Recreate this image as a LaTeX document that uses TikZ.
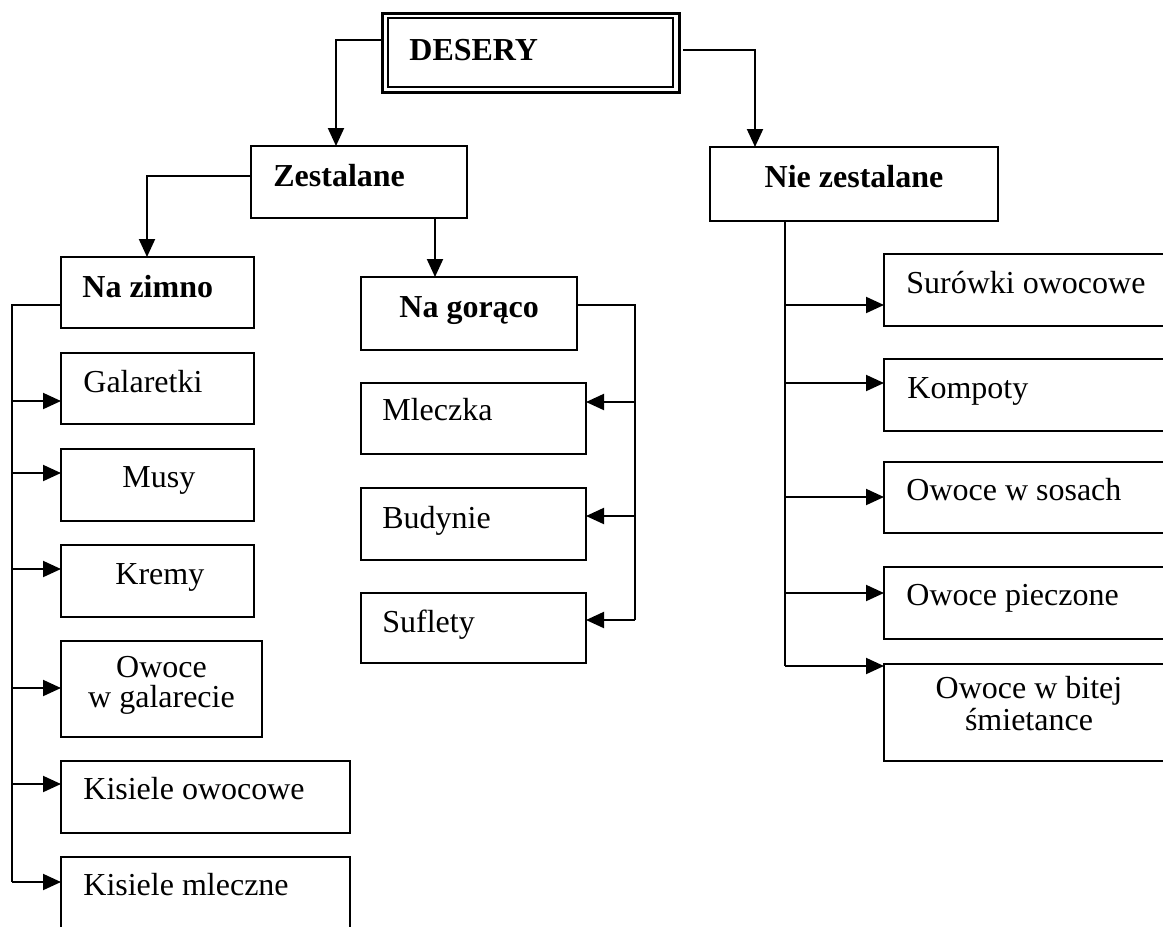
\documentclass[tikz,border=0pt]{standalone}
\usepackage{fontspec}
\setmainfont{Liberation Serif}
\usetikzlibrary{arrows.meta}
\newcommand{\bxnode}[5]{\node[bx, minimum width={(#4-#2)*0.5pt}, minimum height={(#5-#3)*0.5pt}, anchor=north west] (#1) at (#2,#3) {};}
\begin{document}
\begin{tikzpicture}[x=0.5pt,y=-0.5pt,
  bx/.style={draw=black, line width=1pt, inner sep=0pt, outer sep=0pt, fill=none},
  arr/.style={-{Triangle[length=9pt,width=8pt]}, line width=1pt},
  ln/.style={line width=1pt},
  txt/.style={inner sep=0pt, anchor=base west, font=\fontsize{16}{15}\selectfont},
  txtc/.style={inner sep=0pt, anchor=base, font=\fontsize{16}{15}\selectfont},
  btxt/.style={inner sep=0pt, anchor=base west, font=\fontsize{16}{15}\selectfont\bfseries},
  btxtc/.style={inner sep=0pt, anchor=base, font=\fontsize{16}{15}\selectfont\bfseries}]
\useasboundingbox (0,0) rectangle (1163,927);
% main box (double frame)
\node[draw=black, line width=1.5pt, inner sep=0pt, outer sep=0pt, minimum width={(679-382)*0.5pt}, minimum height={(92-13)*0.5pt}, anchor=north west] (des) at (382,13) {};
\draw[line width=1pt] ([shift={(3pt,-2.6pt)}]des.north west) rectangle ([shift={(-3pt,2.6pt)}]des.south east);
\node[btxt] (tdes) at (409,60) {DESERY};
% level 1
\bxnode{zest}{251}{146}{467}{218}
\node[btxt] (tzest) at (273,186) {Zestalane};
\bxnode{niez}{710}{147}{998}{221}
\node[btxtc] (tniez) at (854,187) {Nie zestalane};
% level 2
\bxnode{zim}{61}{257}{254}{328}
\node[btxt] (tzim) at (82,297) {Na zimno};
\bxnode{gor}{361}{277}{577}{350}
\node[btxt] (tgor) at (399,317) {Na gorąco};
% left column
\bxnode{gal}{61}{353}{254}{424}
\node[txt] (tgal) at (83,392) {Galaretki};
\bxnode{mus}{61}{449}{254}{521}
\node[txt] (tmus) at (122,487) {Musy};
\bxnode{kre}{61}{545}{254}{617}
\node[txt] (tkre) at (115,584) {Kremy};
\bxnode{owg}{61}{641}{262}{737}
\node[txtc] (towg1) at (161.5,677) {Owoce};
\node[txtc] (towg2) at (161.5,707) {w galarecie};
\bxnode{kio}{61}{761}{350}{833}
\node[txt] (tkio) at (83,799) {Kisiele owocowe};
\bxnode{kim}{61}{857}{350}{945}
\node[txt] (tkim) at (83,895) {Kisiele mleczne};
% middle column
\bxnode{mle}{361}{383}{586}{454}
\node[txt] (tmle) at (382,420) {Mleczka};
\bxnode{bud}{361}{488}{586}{560}
\node[txt] (tbud) at (382,528) {Budynie};
\bxnode{suf}{361}{593}{586}{663}
\node[txt] (tsuf) at (382,632) {Suflety};
% right column
\bxnode{sur}{884}{254}{1180}{326}
\node[txt] (tsur) at (906,293) {Surówki owocowe};
\bxnode{kom}{884}{359}{1180}{431}
\node[txt] (tkom) at (907,398) {Kompoty};
\bxnode{sos}{884}{462}{1180}{533}
\node[txt] (tsos) at (906,500) {Owoce w sosach};
\bxnode{pie}{884}{567}{1180}{639}
\node[txt] (tpie) at (906,605) {Owoce pieczone};
\bxnode{bit}{884}{664}{1180}{761}
\node[txtc] (tbit1) at (1029,698) {Owoce w bitej};
\node[txtc] (tbit2) at (1029,730) {śmietance};
% connectors from top
\draw[arr] (des.west |- 0,40) -| (zest.north -| 336,0);
\draw[arr] ([xshift=2pt]des.east |- 0,50) -| (niez.north -| 755,0);
\draw[arr] (zest.west |- 0,176) -| (zim.north -| 147,0);
\draw[arr] (zest.south -| 435,0) -- (gor.north -| 435,0);
% left bus
\coordinate (zbus) at (12,0);
\draw[ln] (zim.west |- 0,305) -| (zbus |- 0,882);
\draw[arr] (zbus |- 0,401) -- (gal.west |- 0,401);
\draw[arr] (zbus |- 0,473) -- (mus.west |- 0,473);
\draw[arr] (zbus |- 0,569) -- (kre.west |- 0,569);
\draw[arr] (zbus |- 0,688) -- (owg.west |- 0,688);
\draw[arr] (zbus |- 0,784) -- (kio.west |- 0,784);
\draw[arr] (zbus |- 0,882) -- (kim.west |- 0,882);
% middle bus
\coordinate (gbus) at (635,0);
\draw[ln] (gor.east |- 0,305) -| (gbus |- 0,620);
\draw[arr] (gbus |- 0,402) -- (mle.east |- 0,402);
\draw[arr] (gbus |- 0,516) -- (bud.east |- 0,516);
\draw[arr] (gbus |- 0,620) -- (suf.east |- 0,620);
% right bus
\coordinate (nbus) at (785,0);
\draw[ln] (niez.south -| nbus) -- (nbus |- 0,666);
\draw[arr] (nbus |- 0,305) -- (sur.west |- 0,305);
\draw[arr] (nbus |- 0,383) -- (kom.west |- 0,383);
\draw[arr] (nbus |- 0,497) -- (sos.west |- 0,497);
\draw[arr] (nbus |- 0,593) -- (pie.west |- 0,593);
\draw[arr] (nbus |- 0,666) -- (bit.west |- 0,666);
\end{tikzpicture}
\end{document}
